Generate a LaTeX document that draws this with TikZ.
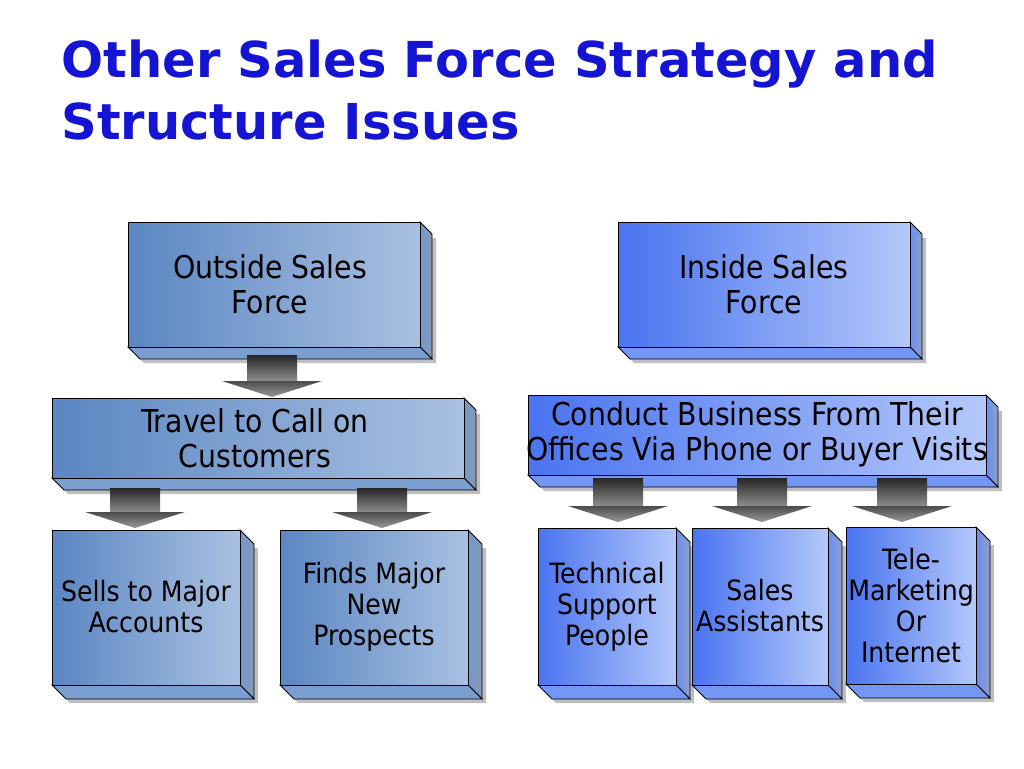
\documentclass[tikz,border=0pt]{standalone}
\usepackage{fontspec}
\setmainfont{DejaVu Sans}
\newfontfamily\boxfont{DejaVu Sans Condensed}
\begin{document}
\begin{tikzpicture}[x=1pt,y=-1pt]
\useasboundingbox (0,0) rectangle (1024,768);
\definecolor{outA}{HTML}{5B86C2}\definecolor{outB}{HTML}{A9C1E2}
\definecolor{inA}{HTML}{4A74F0}\definecolor{inB}{HTML}{B4C8FA}
\definecolor{ttl}{HTML}{1414D2}
\tikzset{face/.style={draw=black,line width=0.8pt},
 lbl/.style={font=\boxfont\fontsize{28}{31}\selectfont,align=center,text=black},
 lblb/.style={font=\boxfont\fontsize{31.5}{35}\selectfont,align=center,text=black},
 arr/.style={top color=black!85,bottom color=black!45,draw=none}}
\newcommand\tdbox[8]{%
 \fill[black!25] (#4+#6,#3+#6+4) -- (#4+#6+4,#3+#6+4) -- (#4+#6+4,#5+#6+4) -- (#2+#6+4,#5+#6+4) -- (#2+#6,#5+#6) -- cycle;
 \path[face,left color=#7!70!#8,right color=#8!80!black] (#4,#3) -- (#4+#6,#3+#6) -- (#4+#6,#5+#6) -- (#4,#5) -- cycle;
 \path[face,fill=#7!60!#8] (#2,#5) -- (#4,#5) -- (#4+#6,#5+#6) -- (#2+#6,#5+#6) -- cycle;
 \node[face,inner sep=0pt,minimum width=#4-#2,minimum height=#5-#3,anchor=north west,shading=axis,shading angle=120,left color=#7,right color=#8] (#1) at (#2,#3) {};}
\newcommand\barr[3]{%
 \path[arr] (#1-25,#2) rectangle (#1+25,#3-16);
 \path[arr,top color=black!70,bottom color=black!40] (#1-50,#3-16) -- (#1+50,#3-16) -- (#1,#3) -- cycle;}

\node[anchor=north west,text=ttl,font=\bfseries\fontsize{49.5}{62}\selectfont,align=left] (title) at (58,36) {Other Sales Force Strategy and\\Structure Issues};

\tdbox{osf}{128}{222}{420}{347}{12}{outA}{outB}
\tdbox{isf}{618}{222}{910}{347}{12}{inA}{inB}
\tdbox{trv}{52}{398}{464}{478}{12}{outA}{outB}
\tdbox{cbf}{528}{395}{986}{475}{12}{inA}{inB}
\tdbox{sma}{52}{530}{240}{685}{14}{outA}{outB}
\tdbox{fmn}{280}{530}{468}{685}{14}{outA}{outB}
\tdbox{tsp}{538}{528}{676}{685}{14}{inA}{inB}
\tdbox{sas}{692}{528}{828}{685}{14}{inA}{inB}
\tdbox{tmi}{846}{527}{976}{684}{14}{inA}{inB}

\node[lblb] at (270,284) {Outside Sales\\Force};
\node[lblb] at (764,284) {Inside Sales\\Force};
\node[lblb] at (255,438) {Travel to Call on\\Customers};
\node[lblb] at (757,434) {Conduct Business From Their\\Offices Via Phone or Buyer Visits};
\node[lbl] at (146,607) {Sells to Major\\Accounts};
\node[lbl] at (374,607) {Finds Major\\New\\Prospects};
\node[lbl] at (607,607) {Technical\\Support\\People};
\node[lbl] at (760,606) {Sales\\Assistants};
\node[lbl] at (911,606) {Tele-\\Marketing\\Or\\Internet};

\barr{272}{355}{397}
\barr{135}{488}{528}
\barr{382}{488}{528}
\barr{618}{478}{522}
\barr{762}{478}{522}
\barr{902}{478}{522}
\end{tikzpicture}
\end{document}
